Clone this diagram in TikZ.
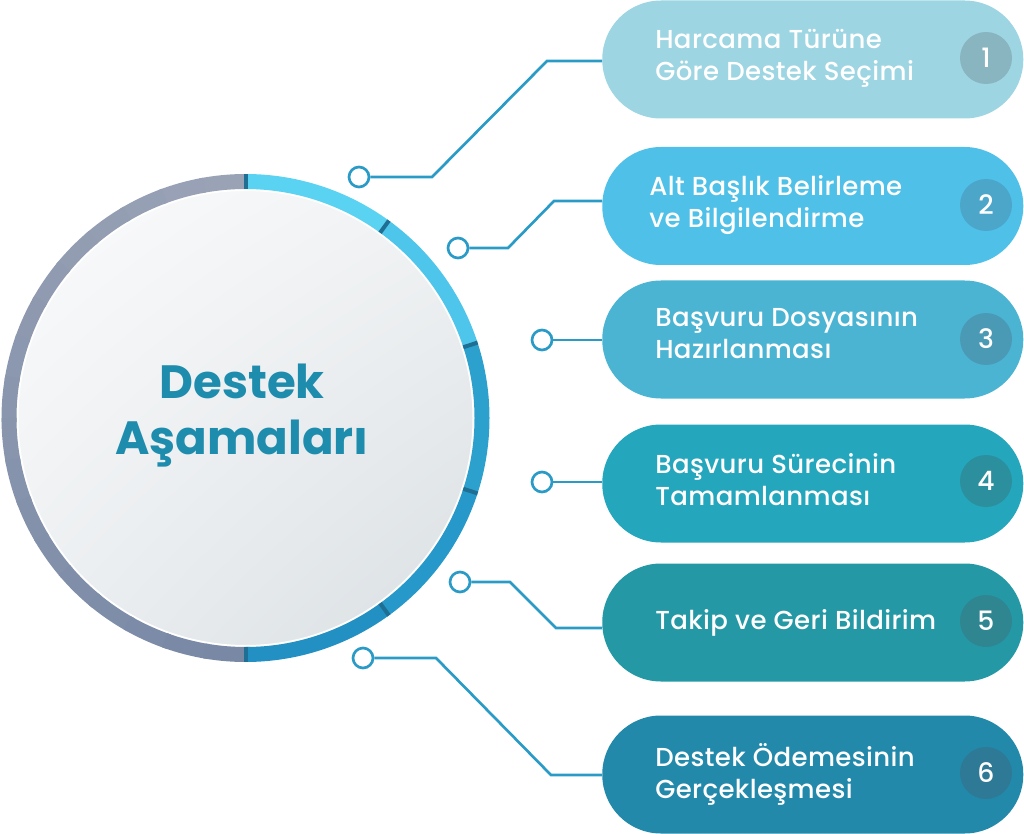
\documentclass[tikz,border=0pt]{standalone}
\usepackage{fontspec}
\setmainfont{Poppins}
\newfontfamily\pillfont{Poppins}[UprightFont=* Medium, LetterSpace=1.5]
\usepackage{tikz}
\usetikzlibrary{shadings}

\definecolor{wirec}{HTML}{2A9BC7}
\definecolor{titlec}{HTML}{1E8CAD}
\definecolor{sepc}{HTML}{1F6E93}
\definecolor{greyTop}{HTML}{9AA3B6}
\definecolor{greyBot}{HTML}{7888A5}
\definecolor{segA}{HTML}{5AD2F1}
\definecolor{segB}{HTML}{4EC5EA}
\definecolor{segC}{HTML}{2DA1CE}
\definecolor{segD}{HTML}{2698C9}
\definecolor{segE}{HTML}{2290C2}
\definecolor{pillA}{HTML}{9DD5E2}
\definecolor{pillB}{HTML}{4FC0E8}
\definecolor{pillC}{HTML}{4BB4D3}
\definecolor{pillD}{HTML}{24A6BD}
\definecolor{pillE}{HTML}{2499A5}
\definecolor{pillF}{HTML}{2389AA}
\definecolor{numA}{HTML}{88B5BF}
\definecolor{numB}{HTML}{4BA6C9}
\definecolor{numC}{HTML}{4A9AB5}
\definecolor{numD}{HTML}{2C8F9E}
\definecolor{numE}{HTML}{2F8590}
\definecolor{numF}{HTML}{2E7995}
\definecolor{discA}{HTML}{FBFBFC}
\definecolor{discB}{HTML}{F0F2F3}
\definecolor{discC}{HTML}{ECEFF1}
\definecolor{discD}{HTML}{D9DFE3}

\begin{document}
\begin{tikzpicture}[x=0.75pt, y=-0.75pt,
    pill/.style = {rectangle, rounded corners=44pt, minimum width=315.75pt, minimum height=88.5pt, inner sep=0pt, anchor=west},
    steptext/.style = {text=white, align=left, anchor=west, inner sep=0pt, font=\pillfont\fontsize{19.5}{24}\selectfont},
    num/.style = {circle, minimum size=39pt, inner sep=0pt, text=white, font=\pillfont\fontsize{20}{24}\selectfont},
    dot/.style = {circle, draw=wirec, fill=white, line width=2pt, minimum size=15pt, inner sep=0pt},
    wire/.style = {draw=wirec, line width=2pt},
    ring/.style = {line width=11.25pt},
    sep/.style = {draw=sepc, line width=3pt}]
    \useasboundingbox (0,0) rectangle (1024,834);

    % big circle
    \coordinate (O) at (245.5,418);
    \shade[upper left=discA, upper right=discB, lower left=discC, lower right=discD] (O) circle[radius=229];
    \draw[white, line width=1.5pt] (O) circle[radius=228];
    \foreach \i in {0,...,17} {
        \pgfmathtruncatemacro{\pct}{100-\i*100/17}
        \draw[ring, greyTop!\pct!greyBot] (O) ++(-90-10*\i:236.5) arc[start angle=-90-10*\i, end angle=-101-10*\i, radius=236.5];
    }
    \draw[ring, segA] (O) ++(-90:236.5) arc[start angle=-90, end angle=-54, radius=236.5];
    \draw[ring, segB] (O) ++(-54:236.5) arc[start angle=-54, end angle=-18, radius=236.5];
    \draw[ring, segC] (O) ++(-18:236.5) arc[start angle=-18, end angle=18, radius=236.5];
    \draw[ring, segD] (O) ++(18:236.5) arc[start angle=18, end angle=54, radius=236.5];
    \draw[ring, segE] (O) ++(54:236.5) arc[start angle=54, end angle=90, radius=236.5];
    \foreach \a in {-90,-54,-18,18,54,90}
        \draw[sep] ([shift={(\a:229)}]O) -- ([shift={(\a:244)}]O);

    \node[text=titlec, align=center, font=\fontsize{35}{42}\selectfont\bfseries] (title) at (242,416) {Destek\\Aşamaları};

    % steps
    \node[pill, fill=pillA] (p1) at (602,59.5) {};
    \node[pill, fill=pillB] (p2) at (602,206) {};
    \node[pill, fill=pillC] (p3) at (602,339.5) {};
    \node[pill, fill=pillD] (p4) at (602,483.5) {};
    \node[pill, fill=pillE] (p5) at (602,622.5) {};
    \node[pill, fill=pillF] (p6) at (602,774.5) {};

    \node[steptext] (s1) at (655,58.5) {Harcama Türüne\\Göre Destek Seçimi};
    \node[steptext] (s2) at (649,205) {Alt Başlık Belirleme\\ve Bilgilendirme};
    \node[steptext] (s3) at (655,334) {Başvuru Dosyasının\\Hazırlanması};
    \node[steptext] (s4) at (655,480) {Başvuru Sürecinin\\Tamamlanması};
    \node[steptext] (s5) at (655,623) {Takip ve Geri Bildirim};
    \node[steptext] (s6) at (655,774) {Destek Ödemesinin\\Gerçekleşmesi};

    \node[num, fill=numA] (n1) at (986,58) {1};
    \node[num, fill=numB] (n2) at (986,205) {2};
    \node[num, fill=numC] (n3) at (986,339) {3};
    \node[num, fill=numD] (n4) at (986,481) {4};
    \node[num, fill=numE] (n5) at (986,621) {5};
    \node[num, fill=numF] (n6) at (986,773) {6};

    % connectors
    \node[dot] (d1) at (359,177) {};
    \node[dot] (d2) at (458,248) {};
    \node[dot] (d3) at (542,340) {};
    \node[dot] (d4) at (542,482) {};
    \node[dot] (d5) at (460,582) {};
    \node[dot] (d6) at (363,658) {};

    \draw[wire] (d1) -- (432,177) -- (547,61) -- (p1.west |- 0,61);
    \draw[wire] (d2) -- (508,248) -- (554,201) -- (p2.west |- 0,201);
    \draw[wire] (d3) -- (d3 -| p3.west);
    \draw[wire] (d4) -- (d4 -| p4.west);
    \draw[wire] (d5) -- (510,582) -- (556,628) -- (p5.west |- 0,628);
    \draw[wire] (d6) -- (436,658) -- (551,775) -- (p6.west |- 0,775);

\end{tikzpicture}
\end{document}
